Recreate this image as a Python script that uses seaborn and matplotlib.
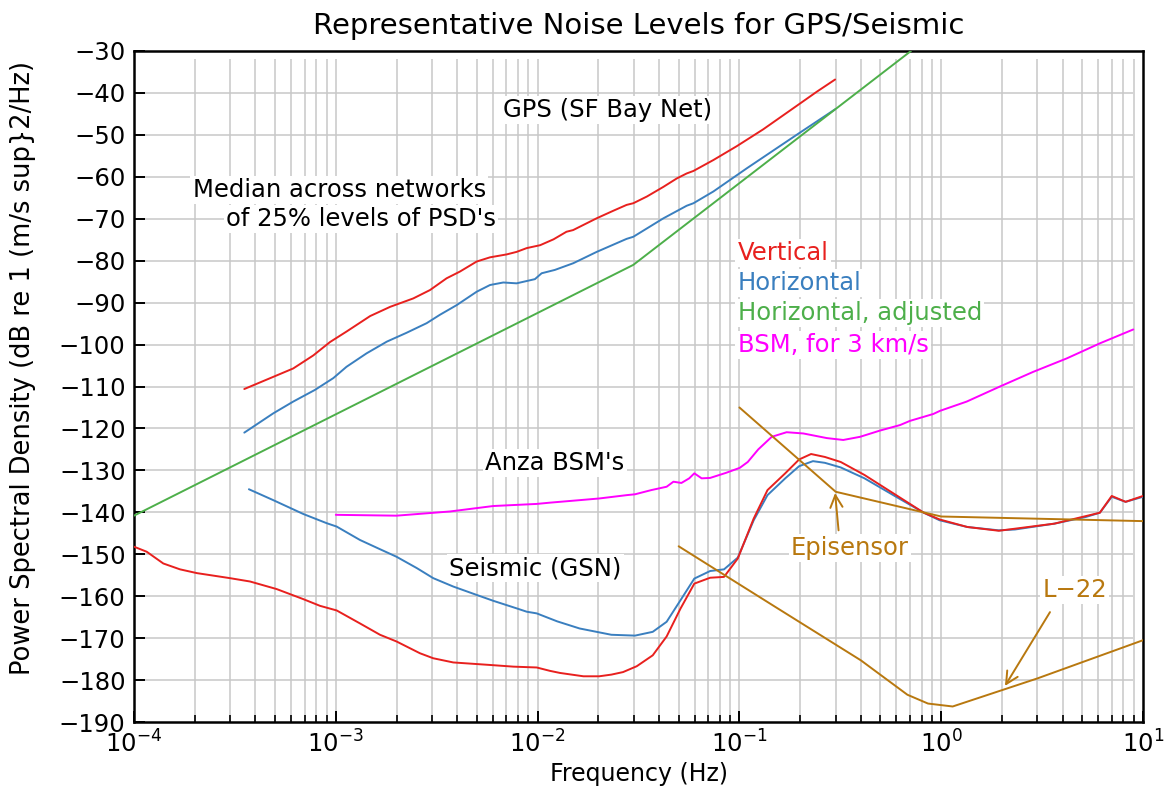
import numpy as np
import pandas as pd
import matplotlib
matplotlib.use("Agg")
import matplotlib.pyplot as plt
import seaborn as sns
from matplotlib.ticker import LogLocator, MultipleLocator, NullFormatter

# ---------------- data ----------------
gps_vert_f = [3.52e-4, 4.9e-4, 6.15e-4, 7.73e-4, 9.36e-4, 1.13e-3, 1.48e-3, 1.86e-3, 2.42e-3,
              2.93e-3, 3.54e-3, 4.12e-3, 4.99e-3, 5.81e-3, 7.03e-3, 7.87e-3, 8.83e-3, 1.03e-2,
              1.2e-2, 1.39e-2, 1.5e-2, 1.96e-2, 2.37e-2, 2.76e-2, 2.98e-2, 3.48e-2, 4.2e-2,
              4.89e-2, 5.48e-2, 5.92e-2, 7.43e-2, 9.7e-2, 0.131, 0.192, 0.242, 0.298]
gps_vert_db = [-110.6, -107.7, -105.7, -102.6, -99.4, -96.9, -93.2, -91.0, -89.0,
               -87.0, -84.2, -82.6, -80.2, -79.2, -78.5, -77.9, -77.0, -76.3,
               -74.9, -73.1, -72.7, -69.9, -68.1, -66.7, -66.3, -64.7, -62.4,
               -60.4, -59.2, -58.6, -56.0, -52.7, -48.7, -43.1, -39.7, -36.8]

gps_horz_f = [3.52e-4, 4.9e-4, 6.15e-4, 7.89e-4, 9.72e-4, 1.13e-3, 1.42e-3, 1.79e-3, 2.24e-3,
              2.82e-3, 3.28e-3, 3.97e-3, 4.99e-3, 5.81e-3, 6.76e-3, 7.87e-3, 9.7e-3, 1.047e-2,
              1.218e-2, 1.503e-2, 1.963e-2, 2.76e-2, 2.98e-2, 4.2e-2, 5.48e-2, 5.92e-2,
              7.43e-2, 0.1086, 0.192, 0.298]
gps_horz_db = [-121.0, -116.4, -113.6, -110.8, -108.0, -105.3, -102.1, -99.3, -97.2,
               -94.9, -92.9, -90.6, -87.4, -85.8, -85.2, -85.4, -84.4, -83.0,
               -82.2, -80.6, -77.9, -74.8, -74.3, -69.9, -66.9, -66.3,
               -63.5, -58.0, -50.0, -43.9]

gps_adj_f = [1e-4, 0.0298, 0.708]
gps_adj_db = [-140.8, -81.0, -30.0]

gsn_horz_f = [3.71e-4, 4.9e-4, 6.9e-4, 9.02e-4, 1.01e-3, 1.318e-3, 1.656e-3, 2.0e-3, 2.52e-3,
              3.04e-3, 3.82e-3, 4.99e-3, 6.03e-3, 7.87e-3, 8.83e-3, 9.9e-3, 1.25e-2, 1.615e-2,
              2.32e-2, 3.04e-2, 3.72e-2, 4.36e-2, 5.1e-2, 5.98e-2, 7.16e-2, 8.39e-2, 9.82e-2,
              0.1177, 0.1378, 0.1687, 0.1977, 0.2315, 0.2652, 0.3178, 0.4168, 0.598, 0.82,
              0.982, 1.347, 1.93, 2.32, 3.64, 5.22, 6.11, 7.0, 8.2, 10.0]
gsn_horz_db = [-134.5, -137.1, -140.4, -142.6, -143.4, -146.6, -148.8, -150.6, -153.3,
               -155.7, -157.7, -159.7, -161.1, -162.9, -163.7, -164.1, -166.0, -167.7,
               -169.2, -169.4, -168.5, -166.1, -161.0, -155.8, -154.0, -153.6, -150.8,
               -141.9, -135.9, -131.9, -129.0, -127.8, -128.2, -129.3, -131.9, -136.3, -140.1,
               -141.9, -143.5, -144.3, -144.1, -142.7, -141.1, -140.1, -136.3, -137.5, -136.3]

gsn_vert_f = [1.0e-4, 1.156e-4, 1.397e-4, 1.69e-4, 2.05e-4, 2.99e-4, 3.76e-4, 5.09e-4, 6.9e-4,
              8.35e-4, 1.01e-3, 1.318e-3, 1.656e-3, 2.0e-3, 2.61e-3, 3.04e-3, 3.82e-3, 5.81e-3,
              7.59e-3, 9.9e-3, 1.15e-2, 1.29e-2, 1.687e-2, 2.02e-2, 2.32e-2, 2.65e-2, 3.1e-2,
              3.72e-2, 4.36e-2, 5.1e-2, 5.98e-2, 7.16e-2, 8.39e-2, 9.82e-2, 0.1177, 0.1378,
              0.1687, 0.1977, 0.2265, 0.2652, 0.3178, 0.4168, 0.598, 0.82, 0.982, 1.347, 1.93,
              3.64, 6.11, 7.0, 8.2, 10.0]
gsn_vert_db = [-148.2, -149.4, -152.2, -153.6, -154.5, -155.7, -156.5, -158.3, -160.7,
               -162.3, -163.4, -166.5, -169.2, -170.8, -173.6, -174.8, -175.8, -176.4,
               -176.8, -177.0, -177.8, -178.3, -179.1, -179.1, -178.7, -178.1, -176.7,
               -174.1, -169.6, -163.0, -157.0, -155.6, -155.4, -151.0, -141.5, -134.7,
               -130.7, -127.4, -126.1, -126.8, -128.0, -131.1, -135.9, -140.1, -141.7, -143.5, -144.4,
               -142.7, -140.1, -136.1, -137.5, -136.1]

bsm_f = [1.0e-3, 2.0e-3, 3.68e-3, 6.03e-3, 9.9e-3, 1.15e-2, 1.615e-2, 2.02e-2, 2.77e-2, 3.04e-2,
         3.66e-2, 4.36e-2, 4.71e-2, 5.16e-2, 5.64e-2, 5.98e-2, 6.5e-2, 7.16e-2, 8.57e-2, 0.1004,
         0.11, 0.124, 0.1446, 0.1714, 0.2075, 0.271, 0.327, 0.396, 0.498, 0.625, 0.70, 0.914,
         0.987, 1.337, 1.955, 2.86, 4.19, 6.12, 8.95]
bsm_db = [-140.6, -140.8, -139.8, -138.5, -138.0, -137.7, -137.1, -136.7, -135.9, -135.7,
          -134.7, -133.9, -132.7, -133.0, -131.9, -130.7, -131.9, -131.8, -130.6, -129.4,
          -128.0, -125.0, -122.0, -120.9, -121.2, -122.3, -122.75, -122.0, -120.5, -119.2, -118.2, -116.55,
          -115.8, -113.6, -110.0, -106.5, -103.3, -99.7, -96.4]

episensor_f = [0.1, 0.3, 1.0, 10.0]
episensor_db = [-115.0, -135.1, -141.0, -142.1]

l22_f = [0.05, 0.15, 0.4, 0.68, 0.86, 1.14, 3.0, 10.0]
l22_db = [-148.1, -162.5, -175.3, -183.5, -185.6, -186.3, -179.6, -170.5]

title = "Representative Noise Levels for GPS/Seismic"
xlabel = "Frequency (Hz)"
ylabel = "Power Spectral Density (dB re 1 (m/s sup}2/Hz)"
legend_labels = ["Vertical", "Horizontal", "Horizontal, adjusted", "BSM, for 3 km/s"]

# ---------------- styling ----------------
RED = "#e8201e"
BLUE = "#3a7fbf"
GREEN = "#4daf4a"
MAGENTA = "#ff00ff"
BROWN = "#b8780f"
GRID = "#c8c8c8"

sns.set_theme(style="white")
plt.rcParams["font.family"] = ["DejaVu Sans"]
plt.rcParams["axes.unicode_minus"] = True
for k in ["text.color", "axes.labelcolor", "xtick.color", "ytick.color"]:
    plt.rcParams[k] = "black"

fig = plt.figure(figsize=(11.69, 7.97), dpi=100)
ax = fig.add_axes([134 / 1169, 1 - 722 / 797, (1143 - 134) / 1169, (722 - 51) / 797])
ax.set_xscale("log")
ax.set_xlim(1e-4, 10)
ax.set_ylim(-190, -30)

# grid (drawn manually so it stops short of the top/right frame like the original)
xgrid = [m * 10.0 ** e for e in range(-4, 1) for m in range(1, 10)][1:]
ax.vlines(xgrid, 0, 0.988, transform=ax.get_xaxis_transform(), colors=GRID, lw=1.1, zorder=0.5)
ygrid = np.arange(-180, -30, 10)
ax.hlines(ygrid, 0, 0.99, transform=ax.get_yaxis_transform(), colors=GRID, lw=1.1, zorder=0.5)

LW = 1.4
curves = [
    (gps_vert_f, gps_vert_db, RED),
    (gps_horz_f, gps_horz_db, BLUE),
    (gps_adj_f, gps_adj_db, GREEN),
    (gsn_horz_f, gsn_horz_db, BLUE),
    (gsn_vert_f, gsn_vert_db, RED),
    (bsm_f, bsm_db, MAGENTA),
    (episensor_f, episensor_db, BROWN),
    (l22_f, l22_db, BROWN),
]
for f, db, c in curves:
    df = pd.DataFrame({"f": f, "db": db})
    sns.lineplot(data=df, x="f", y="db", ax=ax, color=c, lw=LW, estimator=None,
                 sort=False, zorder=3)
ax.set_xlim(1e-4, 10)
ax.set_ylim(-190, -30)

# ticks
ax.xaxis.set_major_locator(LogLocator(base=10, numticks=10))
ax.xaxis.set_minor_locator(LogLocator(base=10, subs=np.arange(2, 10), numticks=20))
ax.xaxis.set_minor_formatter(NullFormatter())
ax.yaxis.set_major_locator(MultipleLocator(10))
ax.tick_params(axis="both", which="major", direction="in", length=8, width=1.4,
               labelsize=17.5, colors="black", bottom=True, left=True, top=False, right=False, pad=6)
ax.tick_params(axis="x", which="minor", direction="in", length=5, width=1.2,
               bottom=True, top=False)
for s in ax.spines.values():
    s.set_linewidth(1.8)
    s.set_color("black")

ax.set_title(title, fontsize=21, pad=12, color="black")
ax.set_xlabel(xlabel, fontsize=17, labelpad=3)
ax.set_ylabel(ylabel, fontsize=18.5)
ax.yaxis.set_label_coords(-0.097, 0.527)

box = dict(facecolor="white", edgecolor="none", pad=1.5)
TS = 17.5
ax.text(0.0223, -44.1, "GPS (SF Bay Net)", fontsize=TS, ha="center", va="center", bbox=box, zorder=2)
ax.text(1.95e-4, -63.1, "Median across networks", fontsize=TS, ha="left", va="center", bbox=box, zorder=2)
ax.text(2.85e-4, -70.1, "of 25% levels of PSD's", fontsize=TS, ha="left", va="center", bbox=box, zorder=2)
ax.text(5.5e-3, -128.2, "Anza BSM's", fontsize=TS, ha="left", va="center", bbox=box, zorder=2)
ax.text(3.65e-3, -153.3, "Seismic (GSN)", fontsize=TS, ha="left", va="center", bbox=box, zorder=2)

legend_colors = [RED, BLUE, GREEN, MAGENTA]
legend_y = [-78.2, -85.3, -92.5, -100.1]
for lab, c, yv in zip(legend_labels, legend_colors, legend_y):
    ax.text(0.098, yv, lab, fontsize=TS, color=c, ha="left", va="center", bbox=box, zorder=2)

ax.text(0.353, -148.5, "Episensor", fontsize=TS, color=BROWN, ha="center", va="center",
        bbox=box, zorder=2)
ax.text(4.6, -158.5, "L\u221222", fontsize=TS, color=BROWN, ha="center", va="center",
        bbox=box, zorder=2)

arrow = dict(arrowstyle="->", color=BROWN, lw=1.4, mutation_scale=22, shrinkA=0, shrinkB=0)
ax.annotate("", xy=(0.298, -135.4), xytext=(0.31, -144.3), arrowprops=arrow, zorder=4)
ax.annotate("", xy=(2.07, -181.4), xytext=(3.46, -163.8), arrowprops=arrow, zorder=4)

fig.savefig("out.png", dpi=100)
